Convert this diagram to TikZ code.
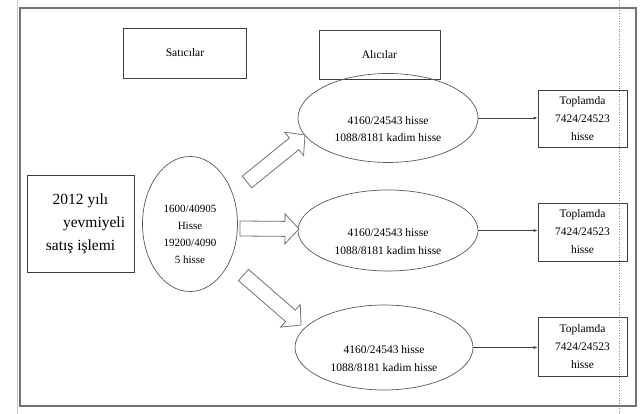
\documentclass[tikz,border=0pt]{standalone}
\usepackage{fontspec}
\setmainfont{Liberation Serif}
\usetikzlibrary{shapes.geometric,calc,arrows.meta}
\tikzset{
  box/.style={draw=black!75, line width=0.7pt, inner sep=0pt, align=center, font=\fontsize{11.5}{17}\selectfont},
  oval/.style={ellipse, draw=black!65, line width=0.7pt, inner sep=0pt, align=center, font=\fontsize{11.5}{17.5}\selectfont},
  blk/.style={draw=black!55, line width=0.8pt, fill=white},
  conn/.style={draw=black!75, line width=0.7pt, -{Latex[length=4pt,width=3pt]}}
}
\newcommand\blkarrow[2]{%
  \coordinate (hb) at ($(#2)!14pt!(#1)$);
  \draw[blk] ($(#1)!7.5pt!90:(#2)$) -- ($(hb)!7.5pt!-90:(#1)$) -- ($(hb)!15pt!-90:(#1)$) -- (#2)
    -- ($(hb)!15pt!90:(#1)$) -- ($(hb)!7.5pt!90:(#1)$) -- ($(#1)!7.5pt!-90:(#2)$) -- cycle;}
\begin{document}
\begin{tikzpicture}[x=1pt,y=-1pt]
\useasboundingbox (0,0) rectangle (640,414);
% page artefacts
\draw[black!20, line width=0.6pt] (17,0) -- (17,414);
\draw[black!45, dotted, line width=0.6pt] (619,0) -- (619,414);
% outer frame
\draw[black!55, line width=1.1pt] (20,8) rectangle (636,406);
% header boxes
\node[box, minimum width=123pt, minimum height=50pt] (sat) at (185,53) {Satıcılar};
\node[box, minimum width=121pt, minimum height=49pt] (alc) at (379.5,55) {Alıcılar};
% seller side
\node[box, minimum width=107pt, minimum height=97pt, font=\fontsize{15.5}{23}\selectfont] (left) at (80.5,223.5)
  {2012 yılı\\\phantom{000} yevmiyeli\\satış işlemi};
\node[oval, minimum width=95pt, minimum height=135pt, font=\fontsize{11}{17}\selectfont] (sel) at (190,224)
  {\strut\\1600/40905\\Hisse\\19200/4090\\5 hisse};
% buyers
\node[oval, minimum width=180pt, minimum height=89pt] (b1) at (388,118)
  {\strut\\4160/24543 hisse\\1088/8181 kadim hisse};
\node[oval, minimum width=180pt, minimum height=81pt] (b2) at (388,230.5)
  {\strut\\4160/24543 hisse\\1088/8181 kadim hisse};
\node[oval, minimum width=178pt, minimum height=85pt] (b3) at (384,347.5)
  {\strut\\4160/24543 hisse\\1088/8181 kadim hisse};
% totals
\node[box, minimum width=89pt, minimum height=57pt, font=\fontsize{11.5}{18}\selectfont] (t1) at (582.5,118.5) {Toplamda\\7424/24523\\hisse};
\node[box, minimum width=89pt, minimum height=58pt, font=\fontsize{11.5}{18}\selectfont] (t2) at (582.5,232) {Toplamda\\7424/24523\\hisse};
\node[box, minimum width=89pt, minimum height=59pt, font=\fontsize{11.5}{18}\selectfont] (t3) at (582.5,346.5) {Toplamda\\7424/24523\\hisse};
\draw[conn] (b1.east) -- (t1.west |- b1.east);
\draw[conn] (b2.east) -- (t2.west |- b2.east);
\draw[conn] (b3.east) -- (t3.west |- b3.east);
% block arrows
\coordinate (a1s) at (247,182); \coordinate (a1e) at (305,135);
\coordinate (a2s) at (240,228.5); \coordinate (a2e) at (299,229);
\coordinate (a3s) at (243.5,275); \coordinate (a3e) at (301,325);
\blkarrow{a1s}{a1e}
\blkarrow{a2s}{a2e}
\blkarrow{a3s}{a3e}
\end{tikzpicture}
\end{document}
